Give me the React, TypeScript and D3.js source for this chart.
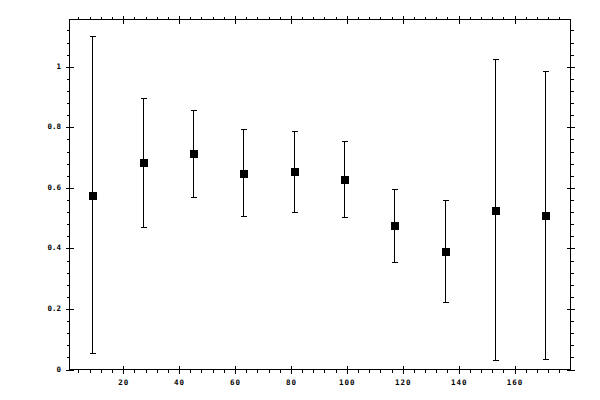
import { useEffect, useRef } from 'react';
import * as d3 from 'd3';

// bin centres
const binCenters = [9, 27, 45, 63, 81, 99, 117, 135, 153, 171];
// mean values
const means = [0.577, 0.686, 0.716, 0.65, 0.656, 0.63, 0.478, 0.392, 0.527, 0.511];
// error bar ends
const upper = [1.1, 0.898, 0.858, 0.795, 0.788, 0.755, 0.597, 0.56, 1.025, 0.987];
const lower = [0.055, 0.471, 0.571, 0.507, 0.521, 0.504, 0.355, 0.223, 0.031, 0.035];

const xMajor = [20, 40, 60, 80, 100, 120, 140, 160];
const yMajor = [0, 0.2, 0.4, 0.6, 0.8, 1];

const App = () => {
  const svgRef = useRef<SVGSVGElement | null>(null);

  useEffect(() => {
    if (svgRef.current === null) return;
    const W = 600;
    const H = 400;
    const left = 69.5;
    const right = 570.5;
    const top = 19.5;
    const bottom = 369.5;

    const svg = d3.select(svgRef.current);
    svg.selectAll('*').remove();
    svg.attr('width', W).attr('height', H);

    const x = d3.scaleLinear().domain([0.8, 180]).range([left, right]);
    const y = d3.scaleLinear().domain([0, 1.156]).range([bottom, top]);

    const g = svg.append('g').attr('shape-rendering', 'crispEdges');

    // frame
    g.append('rect')
      .attr('x', left)
      .attr('y', top)
      .attr('width', right - left)
      .attr('height', bottom - top)
      .attr('fill', 'none')
      .attr('stroke', '#000')
      .attr('stroke-width', 1);

    const xMinor = d3.range(4, 180, 4).filter((v) => v % 20 !== 0);
    const yMinor = d3.range(1, 29).map((i) => i * 0.04).filter((_, i) => (i + 1) % 5 !== 0);

    const tick = (x1: number, y1: number, x2: number, y2: number) =>
      g.append('line')
        .attr('x1', x1).attr('y1', y1).attr('x2', x2).attr('y2', y2)
        .attr('stroke', '#000').attr('stroke-width', 1);

    // x ticks, bottom and top
    xMinor.forEach((v) => {
      const px = Math.round(x(v)) + 0.5;
      tick(px, bottom, px, bottom + 3);
      tick(px, top, px, top - 3);
    });
    xMajor.forEach((v) => {
      const px = Math.round(x(v)) + 0.5;
      tick(px, bottom - 4, px, bottom + 4);
      tick(px, top - 4, px, top + 4);
    });
    // y ticks, left and right
    yMinor.forEach((v) => {
      const py = Math.round(y(v)) + 0.5;
      tick(left - 3, py, left, py);
      tick(right, py, right + 3, py);
    });
    yMajor.forEach((v) => {
      const py = Math.round(y(v)) + 0.5;
      tick(left - 4, py, left + 4, py);
      tick(right - 4, py, right + 4, py);
    });

    const fmt = d3.format('~g');
    const font = 'DejaVu Sans Mono, monospace';

    svg.append('g')
      .selectAll('text')
      .data(xMajor)
      .enter()
      .append('text')
      .attr('x', (d) => x(d) + 0.5)
      .attr('y', 384.5)
      .attr('text-anchor', 'middle')
      .attr('font-family', font)
      .attr('font-size', 7.5)
      .attr('font-weight', 'bold')
      .attr('letter-spacing', 1)
      .text((d) => fmt(d));

    svg.append('g')
      .selectAll('text')
      .data(yMajor)
      .enter()
      .append('text')
      .attr('x', 61)
      .attr('y', (d) => y(d) + 2)
      .attr('text-anchor', 'end')
      .attr('font-family', font)
      .attr('font-size', 7.5)
      .attr('font-weight', 'bold')
      .text((d) => fmt(d));

    // error bars
    const bars = g.append('g');
    binCenters.forEach((c, i) => {
      const px = Math.round(x(c)) + 0.5;
      const yt = Math.round(y(upper[i])) + 0.5;
      const yb = Math.round(y(lower[i])) + 0.5;
      bars.append('line').attr('x1', px).attr('x2', px).attr('y1', yt).attr('y2', yb)
        .attr('stroke', '#000').attr('stroke-width', 1);
      bars.append('line').attr('x1', px - 2.5).attr('x2', px + 3).attr('y1', yt).attr('y2', yt)
        .attr('stroke', '#000').attr('stroke-width', 1);
      bars.append('line').attr('x1', px - 2.5).attr('x2', px + 3).attr('y1', yb).attr('y2', yb)
        .attr('stroke', '#000').attr('stroke-width', 1);
    });

    // markers
    g.append('g')
      .selectAll('rect')
      .data(binCenters)
      .enter()
      .append('rect')
      .attr('x', (d) => Math.round(x(d)) - 3)
      .attr('y', (_, i) => Math.round(y(means[i])) - 3)
      .attr('width', 8)
      .attr('height', 8)
      .attr('fill', '#000');
  }, []);

  return (
    <svg
      ref={svgRef}
      style={{ position: 'absolute', left: 0, top: 0, background: '#fff' }}
    ></svg>
  );
};

export default App;
